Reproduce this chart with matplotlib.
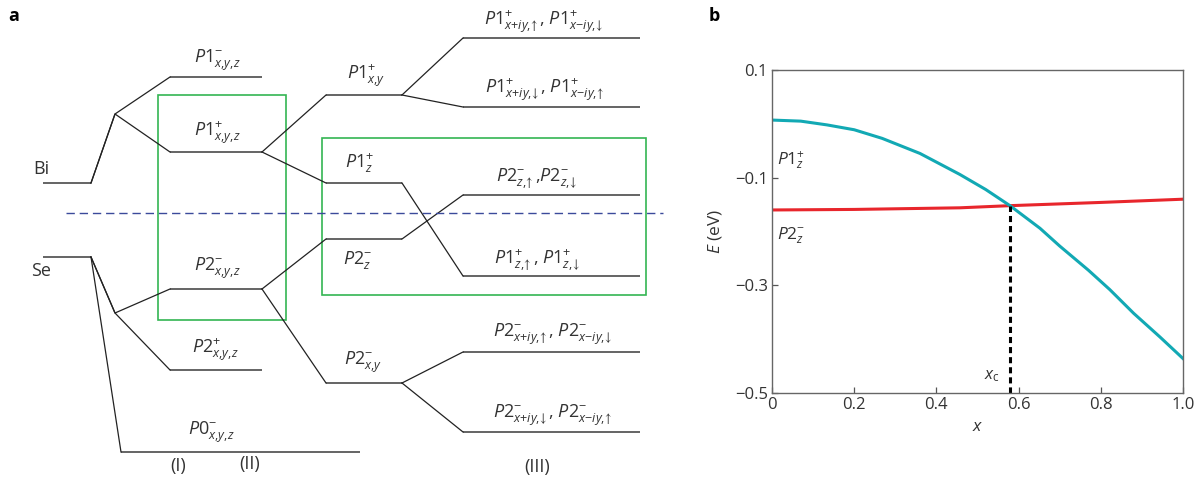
import numpy as np
import matplotlib
matplotlib.use('Agg')
import matplotlib.pyplot as plt
from matplotlib.patches import Rectangle

plt.rcParams['font.family'] = ['Open Sans', 'DejaVu Sans']
plt.rcParams['mathtext.fontset'] = 'custom'
plt.rcParams['mathtext.rm'] = 'Open Sans'
plt.rcParams['mathtext.it'] = 'Open Sans:italic'
plt.rcParams['mathtext.bf'] = 'Open Sans:bold'
plt.rcParams['mathtext.fallback'] = 'stixsans'

# ---- panel a : schematic energy levels (arbitrary units, up = higher energy)
level_keys = ['Bi', 'Se', 'P1m', 'P1p', 'P2m', 'P2p', 'P0m',
              'P1xy', 'P1z', 'P2z', 'P2xy',
              'P1xy_a', 'P1xy_b', 'P2z_s', 'P1z_s', 'P2xy_a', 'P2xy_b']
level_stage = [0, 0, 1, 1, 1, 1, 1, 2, 2, 2, 2, 3, 3, 3, 3, 3, 3]
level_energy = [296, 222, 402, 327, 190, 109, 27,
                384, 296, 240, 96,
                441, 372, 284, 203, 127, 47]
level_labels = [None, None,
                r'$P\mathrm{1}^{-}_{x{,}y{,}z}$', r'$P\mathrm{1}^{+}_{x{,}y{,}z}$',
                r'$P\mathrm{2}^{-}_{x{,}y{,}z}$', r'$P\mathrm{2}^{+}_{x{,}y{,}z}$',
                r'$P\mathrm{0}^{-}_{x{,}y{,}z}$',
                r'$P\mathrm{1}^{+}_{x{,}y}$', r'$P\mathrm{1}^{+}_{z}$',
                r'$P\mathrm{2}^{-}_{z}$', r'$P\mathrm{2}^{-}_{x{,}y}$',
                r'$P\mathrm{1}^{+}_{x{+}iy{,}\!\uparrow}$, $P\mathrm{1}^{+}_{x{-}iy{,}\!\downarrow}$',
                r'$P\mathrm{1}^{+}_{x{+}iy{,}\!\downarrow}$, $P\mathrm{1}^{+}_{x{-}iy{,}\!\uparrow}$',
                r'$P\mathrm{2}^{-}_{z{,}\!\uparrow}$,$P\mathrm{2}^{-}_{z{,}\!\downarrow}$',
                r'$P\mathrm{1}^{+}_{z{,}\!\uparrow}$, $P\mathrm{1}^{+}_{z{,}\!\downarrow}$',
                r'$P\mathrm{2}^{-}_{x{+}iy{,}\!\uparrow}$, $P\mathrm{2}^{-}_{x{-}iy{,}\!\downarrow}$',
                r'$P\mathrm{2}^{-}_{x{+}iy{,}\!\downarrow}$, $P\mathrm{2}^{-}_{x{-}iy{,}\!\uparrow}$']
# energy of the bend where the atomic levels fan out
split_energy = {'Bi': 365, 'Se': 166}
links = [('Bi', 'P1m'), ('Bi', 'P1p'), ('Se', 'P2m'), ('Se', 'P2p'), ('Se', 'P0m'),
         ('P1p', 'P1xy'), ('P1p', 'P1z'), ('P2m', 'P2z'), ('P2m', 'P2xy'),
         ('P1xy', 'P1xy_a'), ('P1xy', 'P1xy_b'), ('P1z', 'P1z_s'),
         ('P2z', 'P2z_s'), ('P2xy', 'P2xy_a'), ('P2xy', 'P2xy_b')]
fermi_level = 266

# ---- panel b : E(x)
x_p1z = [0.0, 0.07, 0.134, 0.2, 0.268, 0.36, 0.457, 0.52, 0.579,
         0.652, 0.70, 0.77, 0.822, 0.88, 0.944, 1.0]
e_p1z = [0.007, 0.005, -0.002, -0.011, -0.027, -0.055, -0.094, -0.122, -0.152,
         -0.194, -0.227, -0.272, -0.308, -0.352, -0.396, -0.436]
x_p2z = [0.0, 0.2, 0.457, 0.579, 0.8, 1.0]
e_p2z = [-0.160, -0.159, -0.156, -0.152, -0.146, -0.140]
x_c = 0.579
e_c = -0.152

fig = plt.figure(figsize=(12, 4.79), dpi=100)

# ================= panel a
ax = fig.add_axes([0, 0, 680 / 1200, 1])
ax.set_xlim(0, 680)
ax.set_ylim(0, 479)
ax.axis('off')

stage_x = [(43, 91), (170, 262), (326, 402), (463, 640)]
wide_x = {'P0m': (121, 360)}
kink_x = 115

E = dict(zip(level_keys, level_energy))
span = {}
for k, s in zip(level_keys, level_stage):
    span[k] = wide_x.get(k, stage_x[s])

for k in level_keys:
    x0, x1 = span[k]
    ax.plot([x0, x1], [E[k], E[k]], color='#3a3a3a', lw=1.1, solid_capstyle='butt')

for a, b in links:
    xa = span[a][1]
    xb = span[b][0]
    if a in split_energy and b != 'P0m':
        ax.plot([xa, kink_x, xb], [E[a], split_energy[a], E[b]], color='#222222', lw=0.9)
    else:
        ax.plot([xa, xb], [E[a], E[b]], color='#222222', lw=0.9)

ax.plot([66, 663], [fermi_level, fermi_level], color='#3b4a9b', lw=1.0,
        dashes=(6, 3.5))

green = '#33b553'
ax.add_patch(Rectangle((158, 159), 128, 225, fill=False, ec=green, lw=1.2))
ax.add_patch(Rectangle((322, 184), 324, 157, fill=False, ec=green, lw=1.2))

label_pos = {'P1m': (217, 419), 'P1p': (217, 346), 'P2m': (217, 211), 'P2p': (215, 129),
             'P0m': (211, 47), 'P1xy': (366, 403), 'P1z': (360, 316), 'P2z': (358, 219),
             'P2xy': (363, 117), 'P1xy_a': (544, 457), 'P1xy_b': (545, 389),
             'P2z_s': (537, 301), 'P1z_s': (537, 219), 'P2xy_a': (553, 145),
             'P2xy_b': (553, 64)}
tc = '#333333'
for k, lab in zip(level_keys, level_labels):
    if lab is None:
        continue
    px, py = label_pos[k]
    ax.text(px, py, lab, ha='center', va='center', fontsize=13, color=tc)

ax.text(41, 310, 'Bi', ha='center', va='center', fontsize=13, color=tc)
ax.text(41, 208, 'Se', ha='center', va='center', fontsize=13, color=tc)
ax.text(178, 13, '(I)', ha='center', va='center', fontsize=13, color=tc)
ax.text(250, 15, '(II)', ha='center', va='center', fontsize=13, color=tc)
ax.text(537, 12, '(III)', ha='center', va='center', fontsize=13, color=tc)
fig.text(14 / 1200, 1 - 16 / 479, 'a', fontsize=13, fontweight='bold',
         ha='center', va='center')
fig.text(714 / 1200, 1 - 16 / 479, 'b', fontsize=13, fontweight='bold',
         ha='center', va='center')

# ================= panel b
bx = fig.add_axes([772 / 1200, 1 - 393 / 479, 411 / 1200, 323 / 479])
bx.plot(x_p2z, e_p2z, color='#e8262c', lw=2.2)
bx.plot(x_p1z, e_p1z, color='#12a9b4', lw=2.2)
bx.plot([x_c, x_c], [-0.5, e_c], color='black', lw=2.2, dashes=(2.0, 1.3))
bx.set_xlim(0, 1.0)
bx.set_ylim(-0.5, 0.1)
bx.set_xticks([0, 0.2, 0.4, 0.6, 0.8, 1.0])
bx.set_xticklabels(['0', '0.2', '0.4', '0.6', '0.8', '1.0'])
bx.set_yticks([0.1, -0.1, -0.3, -0.5])
bx.set_yticklabels(['0.1', '\u22120.1', '\u22120.3', '\u22120.5'])
bx.tick_params(direction='in', length=4, width=0.9, color='#555555',
               labelsize=12, labelcolor=tc, pad=3)
for s in bx.spines.values():
    s.set_color('#666666')
    s.set_linewidth(1.0)
bx.set_xlabel(r'$x$', fontsize=12.5, color=tc, labelpad=4)
bx.set_ylabel(r'$E$ (eV)', fontsize=12.5, color=tc, labelpad=8)
bx.text(0.012, -0.067, r'$P\mathrm{1}^{+}_{z}$', fontsize=12.5, color=tc,
        ha='left', va='center')
bx.text(0.012, -0.208, r'$P\mathrm{2}^{-}_{z}$', fontsize=12.5, color=tc,
        ha='left', va='center')
bx.text(0.555, -0.468, r'$x_{\mathrm{c}}$', fontsize=12, color=tc,
        ha='right', va='center')

fig.savefig('out.png', dpi=100)
